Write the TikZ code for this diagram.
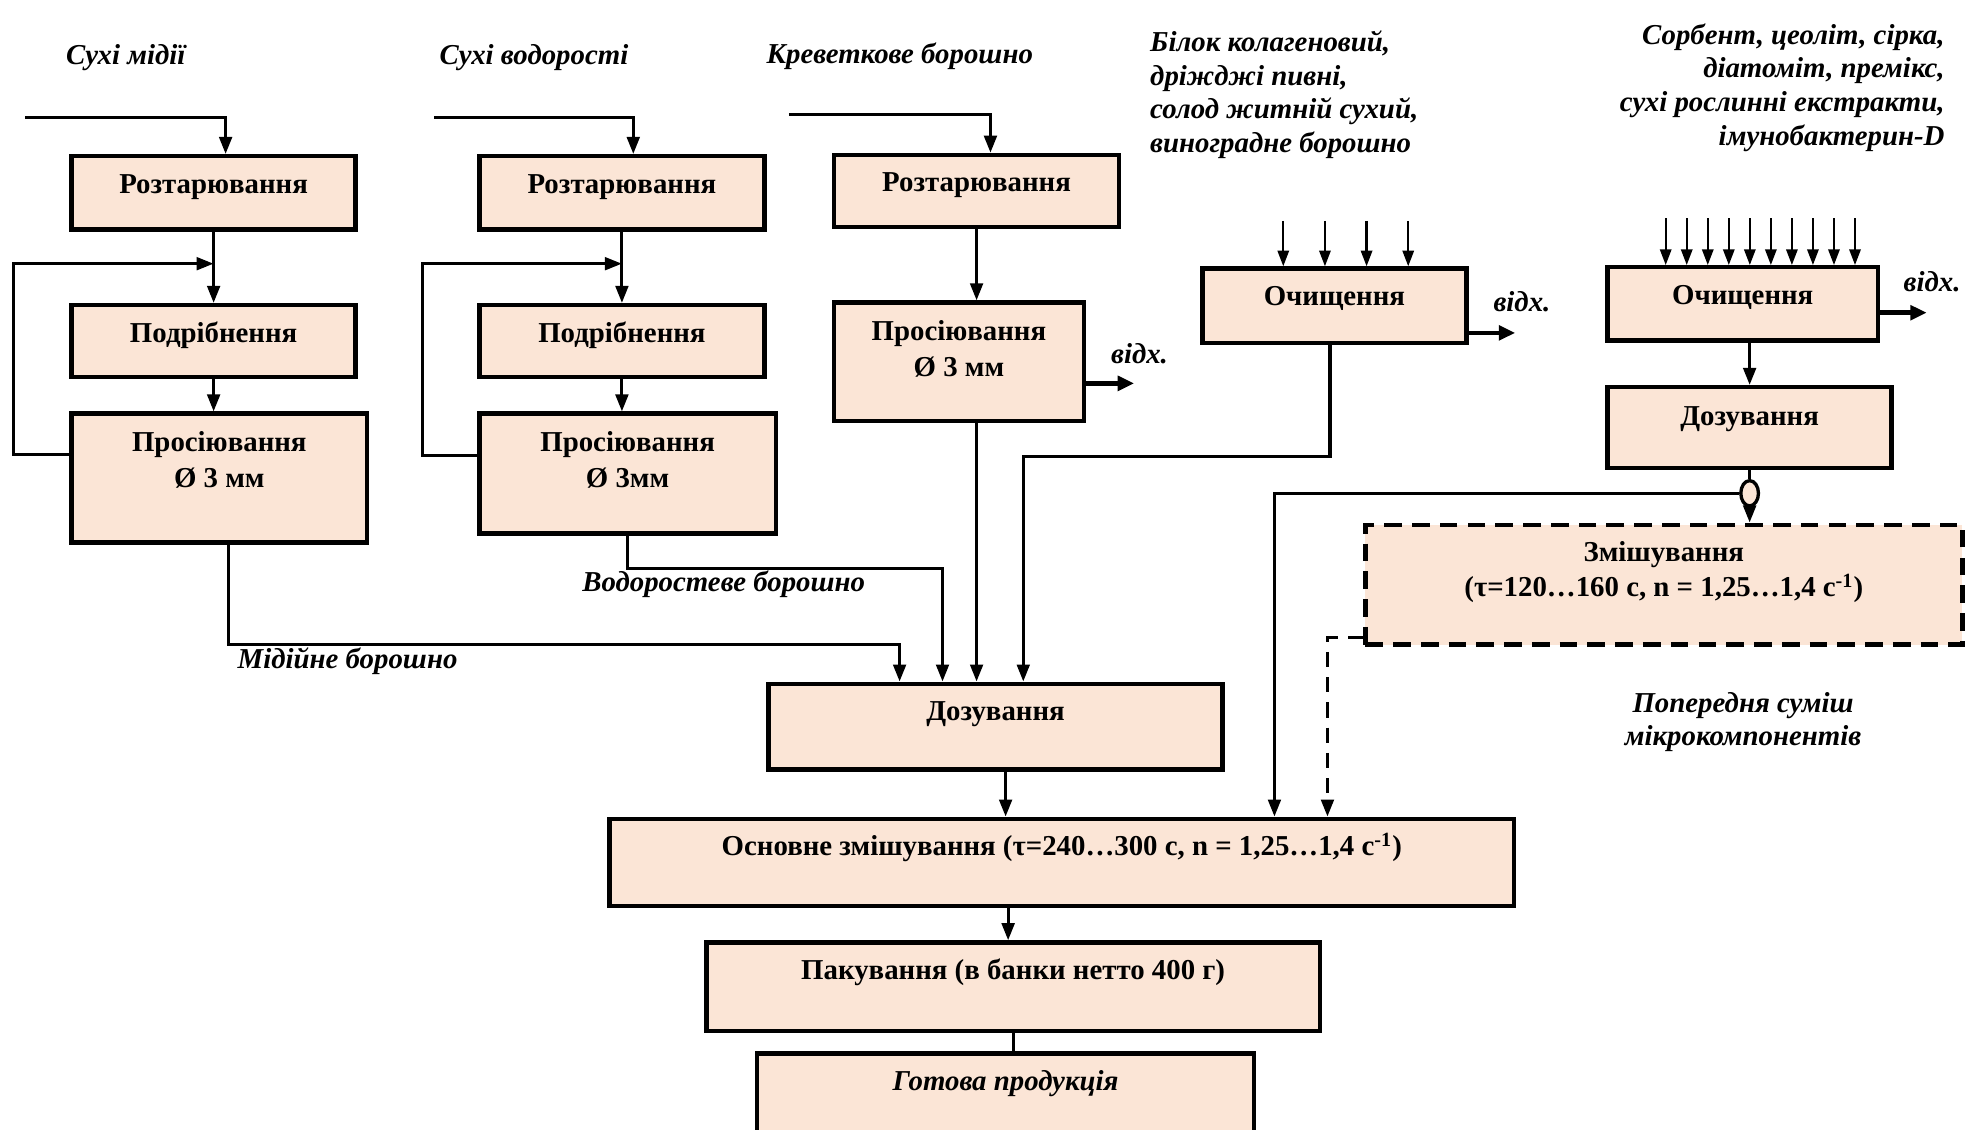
\documentclass[tikz,border=0pt]{standalone}
\usepackage{fontspec}
\setmainfont{Liberation Serif}
\usepackage{tikz}
\usetikzlibrary{arrows.meta,positioning,shapes.geometric,calc}
\definecolor{boxfill}{HTML}{FBE5D6}
\definecolor{ink}{HTML}{000000}
\newcommand{\boxfont}{\fontsize{13}{15.9}\selectfont}
\newcommand{\lblfont}{\fontsize{13}{15.2}\selectfont}
\tikzset{
  procbox/.style={draw=ink,fill=boxfill,line width=2pt,
                  anchor=north west,inner sep=0pt},
  mixbox/.style={procbox,dash pattern=on 2.8mm off 1.6mm},
  proctext/.style={font=\boxfont\bfseries,align=center,anchor=base,inner sep=0pt},
  srclabel/.style={font=\lblfont\bfseries\itshape,inner sep=0pt},
  flowline/.style={line width=1.4pt,color=ink},
  flowarr/.style={-{Triangle[length=2.7mm,width=2mm]},line width=1.4pt,color=ink},
  feedarr/.style={-{Triangle[length=2.5mm,width=1.8mm]},line width=1pt,color=ink},
  wastearr/.style={-{Triangle[length=2.6mm,width=2.3mm]},line width=2pt,color=ink},
  dasharr/.style={flowarr,dash pattern=on 2.4mm off 1.6mm},
  valve/.style={ellipse,draw=ink,fill=boxfill,line width=1.5pt,
                minimum width=2.8mm,minimum height=4mm,inner sep=0pt}
}

\begin{document}
\begin{tikzpicture}[x=0.2mm,y=-0.2mm]
  \useasboundingbox (0,0) rectangle (1568,895);

  % raw materials (multi-line: base = last line)
  \node[srclabel,anchor=base west] (lmus) at (52,51) {Сухі мідії};
  \node[srclabel,anchor=base west] (lalg) at (348,51) {Сухі водорості};
  \node[srclabel,anchor=base west] (lshr) at (607,50) {Креветкове борошно};
  \node[srclabel,anchor=base west,align=left] (ladd) at (911,121)
    {Білок колагеновий,\\дріжджі пивні,\\солод житній сухий,\\виноградне борошно};
  \node[srclabel,anchor=base east,align=right] (lmic) at (1541,115)
    {Сорбент, цеоліт, сірка,\\діатоміт, премікс,\\сухі рослинні екстракти,\\імунобактерин-D};

  % main line
  \node[procbox,minimum width=72mm,minimum height=13.6mm] (dos) at (607,540) {};
  \node[procbox,minimum width=143.4mm,minimum height=13.8mm] (main) at (481,647) {};
  \node[procbox,minimum width=97.2mm,minimum height=14mm] (pack) at (558,745) {};
  \node[procbox,minimum width=78.8mm,minimum height=14.4mm] (ready) at (598,833) {};
  \node[proctext] (dost) at ($(dos.north)+(0,31)$) {Дозування};
  \node[proctext] (maint) at ($(main.north)+(0,31)$)
    {Основне змішування (τ=240…300 с, n = 1,25…1,4 с\textsuperscript{-1})};
  \node[proctext] (packt) at ($(pack.north)+(0,31)$) {Пакування (в банки нетто 400 г)};
  \node[proctext,font=\boxfont\bfseries\itshape] (readyt) at ($(ready.north)+(0,31)$)
    {Готова продукція};

  % mussels
  \coordinate (in1) at (20,93);
  \node[procbox,minimum width=45mm,minimum height=11.6mm] (r1) at (55,122) {};
  \node[procbox,minimum width=45mm,minimum height=11.4mm] (p1) at (55,240) {};
  \node[procbox,minimum width=46.8mm,minimum height=20.4mm] (s1) at (55,326) {};
  \node[proctext] (r1t) at ($(r1.north)+(0,31)$) {Розтарювання};
  \node[proctext] (p1t) at ($(p1.north)+(0,31)$) {Подрібнення};
  \node[proctext] (s1t) at ($(s1.north)+(0,60)$) {Просіювання\\Ø 3 мм};
  \draw[flowarr] (in1) -| ([xshift=1.9mm]r1.north);
  \draw[flowarr] (r1) -- (p1);
  \draw[flowarr] ([yshift=3.8mm]s1.west) -- ++(-44,0) |- ($(r1.south)!0.45!(p1.north)$);
  \draw[flowarr] (p1.south) -- (p1.south |- s1.north);
  \draw[flowarr] ([xshift=1.4mm]s1.south) -- ++(0,79) -| ([xshift=-15.2mm]dos.north);
  \node[srclabel,anchor=base west] (lmusf) at (188,530) {Мідійне борошно};

  % seaweed
  \coordinate (in2) at (344,93);
  \node[procbox,minimum width=45.2mm,minimum height=11.6mm] (r2) at (378,122) {};
  \node[procbox,minimum width=45.2mm,minimum height=11.4mm] (p2) at (378,240) {};
  \node[procbox,minimum width=47mm,minimum height=19mm] (s2) at (378,326) {};
  \node[proctext] (r2t) at ($(r2.north)+(0,31)$) {Розтарювання};
  \node[proctext] (p2t) at ($(p2.north)+(0,31)$) {Подрібнення};
  \node[proctext] (s2t) at ($(s2.north)+(0,60)$) {Просіювання\\Ø 3мм};
  \draw[flowarr] (in2) -| ([xshift=1.8mm]r2.north);
  \draw[flowarr] (r2) -- (p2);
  \draw[flowarr] ([yshift=2.9mm]s2.west) -- ++(-43,0) |- ($(r2.south)!0.45!(p2.north)$);
  \draw[flowarr] (p2.south) -- (p2.south |- s2.north);
  \draw[flowarr] (s2.south) -- ++(0,26) -| ([xshift=-8.4mm]dos.north);
  \node[srclabel,anchor=base west] (lalgf) at (461,469) {Водоростеве борошно};

  % shrimp meal
  \coordinate (in3) at (625,91);
  \node[procbox,minimum width=45.2mm,minimum height=11.4mm] (r3) at (659,121) {};
  \node[procbox,minimum width=39.6mm,minimum height=18.8mm] (s3) at (659,238) {};
  \node[proctext] (r3t) at ($(r3.north)+(0,31)$) {Розтарювання};
  \node[proctext] (s3t) at ($(s3.north)+(0,60)$) {Просіювання\\Ø 3 мм};
  \draw[flowarr] (in3) -| ([xshift=2.2mm]r3.north);
  \draw[flowarr] (r3.south) -- (r3.south |- s3.north);
  \draw[wastearr] ([yshift=-3.4mm]s3.east) -- ++(38,0);
  \node[srclabel,anchor=base west] (w3) at (880,288) {відх.};
  \draw[flowarr] ([xshift=2.8mm]s3.south) -- ([xshift=2.8mm]s3.south |- dos.north);

  % protein, yeast, malt, grape
  \node[procbox,minimum width=41.8mm,minimum height=11.8mm] (o4) at (951,211) {};
  \node[proctext] (o4t) at ($(o4.north)+(0,31)$) {Очищення};
  \foreach \dx in {-8.1,-1.5,5.1,11.7}
    \draw[feedarr] ([xshift=\dx mm,yshift=7.2mm]o4.north) -- ([xshift=\dx mm]o4.north);
  \draw[wastearr] ([yshift=-4.3mm]o4.east) -- ++(37,0);
  \node[srclabel,anchor=base west] (w4) at (1183,247) {відх.};
  \draw[flowarr] ([xshift=-0.7mm]o4.south) -- ++(0,88) -| ([xshift=4.4mm]dos.north);

  % micro components
  \node[procbox,minimum width=42.8mm,minimum height=11.6mm] (o5) at (1272,210) {};
  \node[procbox,minimum width=45mm,minimum height=12.8mm] (d5) at (1272,305) {};
  \node[procbox,mixbox,minimum width=94.6mm,minimum height=19mm] (mix) at (1080,414) {};
  \node[valve,below=1.4mm of d5] (vlv) {};
  \node[proctext] (o5t) at ($(o5.north)+(0,31)$) {Очищення};
  \node[proctext] (d5t) at ($(d5.north)+(0,32)$) {Дозування};
  \node[proctext] (mixt) at ($(mix.north)+(0,59)$)
    {Змішування\\(τ=120…160 с, n = 1,25…1,4 с\textsuperscript{-1})};
  \foreach \i in {0,...,9}
    \draw[feedarr] ([xshift=-12.2mm+\i*3.333mm,yshift=7.4mm]o5.north)
      -- ([xshift=-12.2mm+\i*3.333mm]o5.north);
  \draw[wastearr] ([yshift=-1.4mm]o5.east) -- ++(37,0);
  \node[srclabel,anchor=base west] (w5) at (1508,231) {відх.};
  \draw[flowarr] (o5.south -| d5.north) -- (d5.north);
  \draw[flowline] (d5) -- (vlv);
  \draw[flowarr] (vlv) -- (vlv |- mix.north);
  \draw[flowarr] (vlv.west) -| ([xshift=33.7mm]main.north);
  \draw[dasharr] ([yshift=-8.3mm]mix.west) -| ([xshift=42.1mm]main.north);
  \node[srclabel,anchor=base,align=center] (lpre) at (1381,591)
    {Попередня суміш\\мікрокомпонентів};

  % main line connectors
  \draw[flowarr] ([xshift=1.6mm]dos.south) -- ([xshift=1.6mm]dos.south |- main.north);
  \draw[flowarr] ([xshift=-0.8mm]pack.north |- main.south) -- ([xshift=-0.8mm]pack.north);
  \draw[flowline] (pack.south) -- (pack.south |- ready.north);
\end{tikzpicture}
\end{document}
